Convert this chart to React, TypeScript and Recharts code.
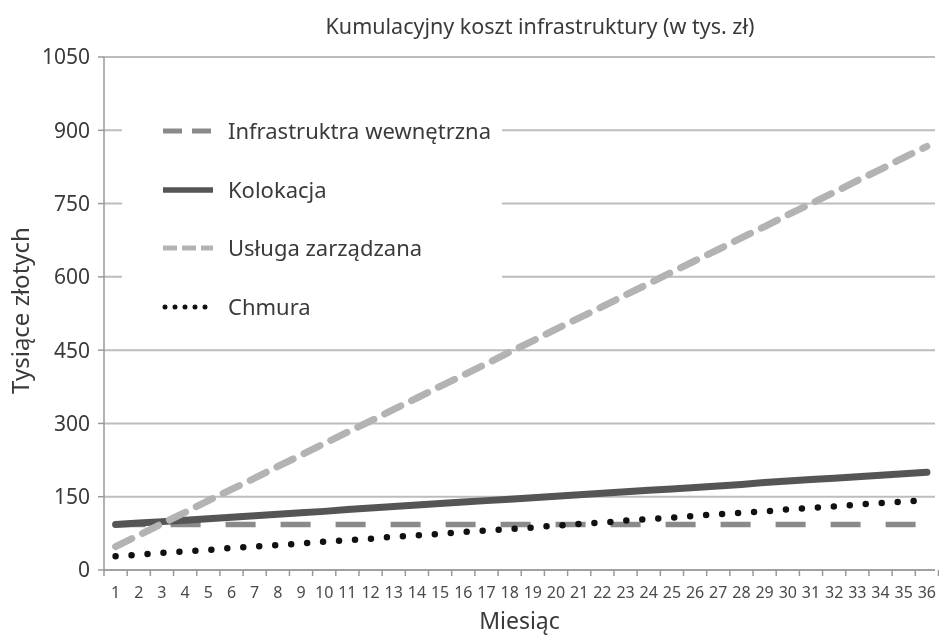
import React from 'react'
import { LineChart, Line, XAxis, YAxis, CartesianGrid, Legend } from 'recharts'

// months 1..36
const months = [1, 2, 3, 4, 5, 6, 7, 8, 9, 10, 11, 12, 13, 14, 15, 16, 17, 18, 19, 20, 21, 22, 23, 24, 25, 26, 27, 28, 29, 30, 31, 32, 33, 34, 35, 36]

// cumulative cost, thousands of PLN
const wewnetrzna = [93, 93, 93, 93, 93, 93, 93, 93, 93, 93, 93, 93, 93, 93, 93, 93, 93, 93, 93, 93, 93, 93, 93, 93, 93, 93, 93, 93, 93, 93, 93, 93, 93, 93, 93, 93]
const kolokacja = [93, 96, 99, 102, 105, 108, 111, 114, 117, 120, 124, 127, 130, 133, 136, 139, 142, 145, 148, 151, 154, 157, 160, 163, 166, 169, 172, 175, 179, 182, 185, 188, 191, 194, 197, 200]
const zarzadzana = [48, 71, 95, 118, 142, 165, 188, 212, 235, 259, 282, 305, 329, 352, 376, 399, 422, 446, 469, 493, 516, 539, 563, 586, 610, 633, 656, 680, 703, 727, 750, 773, 797, 820, 844, 867]
const chmura = [28, 31, 35, 38, 41, 45, 48, 51, 54, 58, 61, 64, 68, 71, 74, 78, 81, 84, 87, 91, 94, 97, 101, 104, 107, 111, 114, 117, 120, 124, 127, 130, 134, 137, 140, 143]

const yTicks = [0, 150, 300, 450, 600, 750, 900, 1050]

const data = months.map((m, i) => ({
  m,
  wew: wewnetrzna[i],
  kol: kolokacja[i],
  zar: zarzadzana[i],
  chm: chmura[i],
}))

const FONT = '"Noto Sans", "Open Sans", sans-serif'
const TXT = '#3a3a3a'
const HALF = 11.59 // half a month step in px, for boundary tick marks

function MonthTick({ x, y, payload }: any) {
  return (
    <g>
      {payload.value === 1 && <line x1={x - HALF} y1={y} x2={x - HALF} y2={y + 6} stroke="#999" strokeWidth={1.5} />}
      <line x1={x + HALF} y1={y} x2={x + HALF} y2={y + 6} stroke="#999" strokeWidth={1.5} />
      <text x={x} y={y + 28} textAnchor="middle" fill="#4a4a4a" fontSize={16} fontFamily={FONT}>{payload.value}</text>
    </g>
  )
}

const legendRows = [
  { name: 'Infrastruktra wewnętrzna', color: '#8a8a8a', dash: '19 10', width: 5, cap: 'butt', y: 20 },
  { name: 'Kolokacja', color: '#555555', dash: undefined, width: 5.5, cap: 'butt', y: 79 },
  { name: 'Usługa zarządzana', color: '#b3b3b3', dash: '14 5', width: 5, cap: 'butt', y: 137 },
  { name: 'Chmura', color: '#111111', dash: '0 10', width: 5, cap: 'round', y: 196 },
]

function LegendBox() {
  return (
    <svg width={380} height={216}>
      {legendRows.map((r) => (
        <g key={r.name}>
          <line x1={41 + (r.cap === 'round' ? 2 : 0)} x2={91} y1={r.y} y2={r.y} stroke={r.color} strokeWidth={r.width}
            strokeDasharray={r.dash} strokeLinecap={r.cap as any} />
          <text x={106} y={r.y + 8} fill={TXT} fontSize={22} fontFamily={FONT}>{r.name}</text>
        </g>
      ))}
    </svg>
  )
}

export default function App() {
  return (
    <div style={{ position: 'fixed', left: 0, top: 0, width: 939, height: 638, background: '#fff' }}>
      <div style={{ position: 'absolute', left: 0, width: 1080, top: 11, textAlign: 'center', fontFamily: FONT, fontSize: 21.5, color: TXT }}>
        Kumulacyjny koszt infrastruktury (w tys. zł)
      </div>
      <LineChart width={939} height={638} data={data} margin={{ top: 57, right: 4, bottom: 0, left: 0 }}>
        <CartesianGrid vertical={false} stroke="#bdbdbd" strokeWidth={2} />
        <XAxis dataKey="m" type="number" domain={[0.5, 36.35]} ticks={months} interval={0}
          allowDataOverflow height={68} tickSize={0} tickMargin={0} tickLine={false}
          axisLine={{ stroke: '#999', strokeWidth: 1.5 }} tick={<MonthTick />}
          label={{ value: 'Miesiąc', position: 'insideBottom', offset: 9, fill: TXT, fontSize: 23, fontFamily: FONT }} />
        <YAxis type="number" domain={[0, 1050]} ticks={yTicks} width={104} tickSize={6} tickMargin={8}
          axisLine={{ stroke: '#999', strokeWidth: 1.5 }} tickLine={{ stroke: '#999', strokeWidth: 1.5 }}
          tick={{ fill: TXT, fontSize: 21, fontFamily: FONT }}
          label={{ value: 'Tysiące złotych', angle: -90, position: 'center', dx: -32, dy: -3, fill: TXT, fontSize: 24, fontFamily: FONT }} />
        <Legend layout="horizontal" verticalAlign="middle" align="center" content={<LegendBox />}
          wrapperStyle={{ position: 'absolute', left: 122, top: 111, width: 380, height: 216, background: '#fff' }} />
        <Line dataKey="wew" name="Infrastruktra wewnętrzna" stroke="#8a8a8a" strokeWidth={5.5} strokeDasharray="30 25"
          dot={false} isAnimationActive={false} />
        <Line dataKey="kol" name="Kolokacja" stroke="#555555" strokeWidth={7} strokeLinecap="round"
          dot={false} isAnimationActive={false} />
        <Line dataKey="zar" name="Usługa zarządzana" stroke="#b3b3b3" strokeWidth={7} strokeDasharray="18 12"
          strokeLinecap="round" dot={false} isAnimationActive={false} />
        <Line dataKey="chm" name="Chmura" stroke="#111111" strokeWidth={6.5} strokeDasharray="0 16"
          strokeLinecap="round" dot={false} isAnimationActive={false} />
      </LineChart>
    </div>
  )
}
